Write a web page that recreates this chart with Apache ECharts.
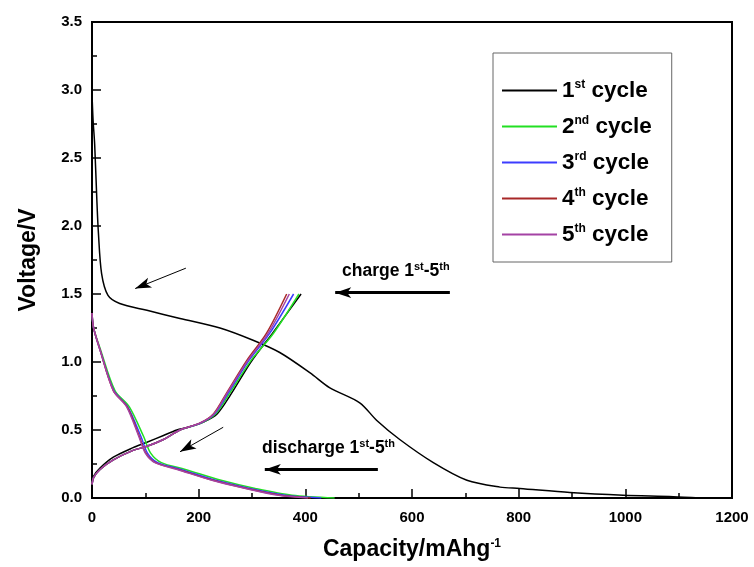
<!DOCTYPE html>
<html>
<head>
<meta charset="utf-8">
<script src="https://cdn.jsdelivr.net/npm/echarts@6/dist/echarts.min.js"></script>
<style>
  html, body { margin: 0; padding: 0; background: #fff; }
  #chart { width: 754px; height: 567px; }
</style>
</head>
<body>
<div id="chart"></div>
<script>
  // 1st cycle discharge (long black curve)
  var cap1Dis = [0, 2, 5, 9, 12, 18, 30, 52, 103, 165, 240, 302, 352, 409, 446, 502, 534, 577, 640, 703, 765, 802, 896, 996, 1090, 1140]
  var volt1Dis = [2.97, 2.78, 2.6, 2.2, 1.95, 1.65, 1.49, 1.43, 1.38, 1.32, 1.25, 1.16, 1.07, 0.92, 0.81, 0.70, 0.57, 0.43, 0.26, 0.13, 0.08, 0.07, 0.04, 0.02, 0.01, 0.0]

  // charge curves
  var cap1Chg = [0, 3, 15, 40, 77, 103, 134, 159, 180, 210, 235, 260, 298, 340, 392]
  var volt1Chg = [0.10, 0.16, 0.22, 0.30, 0.37, 0.41, 0.46, 0.50, 0.52, 0.56, 0.62, 0.76, 1.00, 1.22, 1.50]
  var voltChg = [0.10, 0.15, 0.21, 0.28, 0.35, 0.38, 0.43, 0.50, 0.55, 0.62, 0.77, 1.01, 1.21, 1.50]
  var cap2Chg = [0, 3, 15, 40, 77, 103, 134, 165, 204, 232, 258, 298, 340, 388]
  var cap3Chg = [0, 3, 15, 40, 77, 103, 134, 165, 203, 230, 255, 294, 333, 378]
  var cap4Chg = [0, 3, 15, 40, 77, 103, 134, 165, 202, 228, 252, 290, 327, 365]
  var cap5Chg = [0, 3, 15, 40, 77, 103, 134, 165, 202, 229, 253, 292, 330, 370]

  // discharge curves, cycles 2-5
  var voltDis = [1.36, 1.25, 1.09, 0.79, 0.67, 0.45, 0.33, 0.26, 0.21, 0.13, 0.07, 0.02, 0.0]
  var cap2Dis = [0, 3, 16, 43, 70, 97, 110, 130, 175, 242, 306, 375, 455]
  var cap3Dis = [0, 3, 15, 41, 67, 92, 104, 123, 167, 232, 296, 362, 430]
  var cap4Dis = [0, 3, 15, 40, 66, 89, 101, 119, 162, 227, 290, 353, 410]
  var cap5Dis = [0, 3, 15, 40, 65, 88, 100, 118, 160, 225, 288, 350, 405]

  var cycleNames = ['1st cycle', '2nd cycle', '3rd cycle', '4th cycle', '5th cycle']
  var cycleColors = ['#000000', '#22e022', '#3c3cff', '#a82828', '#a442a4']

  function pairs (xs, ys) {
    var out = []
    for (var i = 0; i < xs.length; i++) out.push([xs[i], ys[i]])
    return out
  }

  function curve (idx, data) {
    return {
      name: cycleNames[idx],
      type: 'line',
      symbol: 'none',
      smooth: 0.3,
      color: cycleColors[idx],
      lineStyle: { width: 1.5, color: cycleColors[idx] },
      data: data
    }
  }

  var boldFont = 'Liberation Sans, Arial, sans-serif'
  function sup (size, lift) {
    return { fontSize: size, fontWeight: 'bold', fontFamily: boldFont, color: '#000', padding: [0, 0, lift, 0] }
  }

  var series = [
    curve(0, pairs(cap1Dis, volt1Dis)),
    curve(0, pairs(cap1Chg, volt1Chg)),
    curve(1, pairs(cap2Dis, voltDis)),
    curve(1, pairs(cap2Chg, voltChg)),
    curve(2, pairs(cap3Dis, voltDis)),
    curve(2, pairs(cap3Chg, voltChg)),
    curve(3, pairs(cap4Dis, voltDis)),
    curve(3, pairs(cap4Chg, voltChg)),
    curve(4, pairs(cap5Dis, voltDis)),
    curve(4, pairs(cap5Chg, voltChg))
  ]

  // annotation arrows
  series[0].markLine = {
    silent: true,
    symbol: ['none', 'arrow'],
    animation: false,
    label: { show: false },
    data: [
      [{ coord: [176, 1.69], symbolSize: 9, lineStyle: { width: 1, color: '#000', type: 'solid' } }, { coord: [81, 1.54] }],
      [{ coord: [246, 0.52], symbolSize: 9, lineStyle: { width: 1, color: '#000', type: 'solid' } }, { coord: [165, 0.34] }],
      [{ coord: [671, 1.51], symbolSize: [12, 16], lineStyle: { width: 3, color: '#000', type: 'solid' } }, { coord: [456, 1.51] }],
      [{ coord: [536, 0.21], symbolSize: [12, 16], lineStyle: { width: 3, color: '#000', type: 'solid' } }, { coord: [324, 0.21] }]
    ]
  }

  var myChart = echarts.init(document.getElementById('chart'))
  myChart.setOption({
    animation: false,
    backgroundColor: '#fff',
    grid: {
      left: 92,
      right: 22,
      top: 22,
      bottom: 69,
      show: true,
      borderColor: '#000',
      borderWidth: 2
    },
    legend: {
      data: cycleNames,
      orient: 'vertical',
      left: 493,
      top: 53,
      padding: [26, 20, 16, 9],
      icon: 'rect',
      itemGap: 13,
      itemWidth: 55,
      itemHeight: 2,
      borderColor: '#666',
      borderWidth: 1,
      formatter: function (name) {
        var parts = name.split(' ')
        var num = parts[0].charAt(0)
        var suf = parts[0].slice(1)
        return num + '{sup|' + suf + '} ' + parts[1]
      },
      textStyle: {
        fontSize: 22.5,
        fontWeight: 'bold',
        fontFamily: boldFont,
        color: '#000',
        rich: { sup: sup(12, 11) }
      }
    },
    xAxis: {
      type: 'value',
      min: 0,
      max: 1200,
      interval: 200,
      name: 'Capacity/mAhg{sup|-1}',
      nameLocation: 'middle',
      nameGap: 40,
      nameTextStyle: {
        fontSize: 23,
        fontWeight: 'bold',
        fontFamily: boldFont,
        color: '#000',
        rich: { sup: sup(12, 12) }
      },
      axisLine: { lineStyle: { color: '#000', width: 2 } },
      axisTick: { inside: true, length: 9, lineStyle: { color: '#000', width: 1.5 } },
      minorTick: { show: true, splitNumber: 2, length: 5, lineStyle: { color: '#000', width: 1.5 } },
      splitLine: { show: false },
      axisLabel: {
        fontSize: 15, fontWeight: 'bold', fontFamily: boldFont, color: '#000', margin: 12,
        formatter: function (v) { return String(v) }
      }
    },
    yAxis: {
      type: 'value',
      min: 0,
      max: 3.5,
      interval: 0.5,
      name: 'Voltage/V',
      nameLocation: 'middle',
      nameGap: 52,
      nameTextStyle: { fontSize: 23, fontWeight: 'bold', fontFamily: boldFont, color: '#000' },
      axisLine: { lineStyle: { color: '#000', width: 2 } },
      axisTick: { inside: true, length: 9, lineStyle: { color: '#000', width: 1.5 } },
      minorTick: { show: true, splitNumber: 2, length: 5, lineStyle: { color: '#000', width: 1.5 } },
      splitLine: { show: false },
      axisLabel: {
        fontSize: 15, fontWeight: 'bold', fontFamily: boldFont, color: '#000', margin: 10,
        formatter: function (v) { return v.toFixed(1) }
      }
    },
    graphic: [
      {
        type: 'text',
        left: 342,
        top: 261,
        style: {
          text: 'charge 1{sup|st}-5{sup|th}',
          fontSize: 17.5,
          fontWeight: 'bold',
          fontFamily: boldFont,
          fill: '#000',
          rich: { sup: sup(11, 9) }
        }
      },
      {
        type: 'text',
        left: 262,
        top: 438,
        style: {
          text: 'discharge 1{sup|st}-5{sup|th}',
          fontSize: 17.5,
          fontWeight: 'bold',
          fontFamily: boldFont,
          fill: '#000',
          rich: { sup: sup(11, 9) }
        }
      }
    ],
    series: series
  })
</script>
</body>
</html>
